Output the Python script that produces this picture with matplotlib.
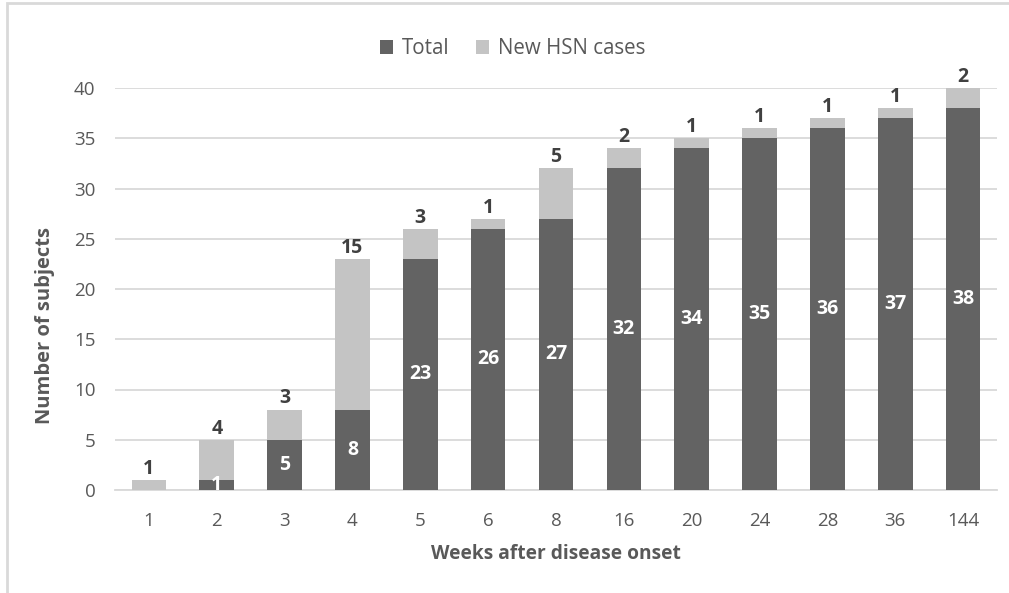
import matplotlib.pyplot as plt
from matplotlib.patches import Rectangle

weeks = ["1", "2", "3", "4", "5", "6", "8", "16", "20", "24", "28", "36", "144"]
total = [0, 1, 5, 8, 23, 26, 27, 32, 34, 35, 36, 37, 38]
new_cases = [1, 4, 3, 15, 3, 1, 5, 2, 1, 1, 1, 1, 2]

dark = "#636363"
light = "#c4c4c4"
txt = "#595959"

plt.rcParams["font.family"] = ["Open Sans", "DejaVu Sans"]

fig = plt.figure(figsize=(10.09, 5.93), dpi=100)
ax = fig.add_axes([115 / 1009, 1 - 490 / 593, 882 / 1009, 402 / 593])

x = list(range(len(weeks)))
b1 = ax.bar(x, total, width=0.51, color=dark, label="Total", zorder=3)
b2 = ax.bar(x, new_cases, width=0.51, bottom=total, color=light,
            label="New HSN cases", zorder=3)

# labels inside the dark bars
for xi, t in zip(x, total):
    if t > 0:
        ax.text(xi, t / 2, str(t), ha="center", va="center", color="white",
                fontsize=14, fontweight="bold", zorder=4)
# labels above the stack
for xi, t, n in zip(x, total, new_cases):
    ax.annotate(str(n), (xi, t + n), xytext=(0, 8), textcoords="offset points",
                ha="center", va="center", color="#404040", fontsize=14,
                fontweight="bold", zorder=4)

ax.set_xlim(-0.5, len(weeks) - 0.5)
ax.set_ylim(0, 40)
ax.set_yticks(range(0, 41, 5))
ax.set_xticks(x)
ax.set_xticklabels(weeks)
ax.yaxis.grid(True, color="#d9d9d9", linewidth=1.3, zorder=0)
ax.set_axisbelow(True)
for s in ["top", "right", "left"]:
    ax.spines[s].set_visible(False)
ax.spines["bottom"].set_color("#d9d9d9")
ax.spines["bottom"].set_linewidth(1.3)
ax.tick_params(axis="both", length=0, colors=txt, labelsize=13.5)
ax.tick_params(axis="x", pad=16)
ax.tick_params(axis="y", pad=14)

ax.set_xlabel("Weeks after disease onset", color=txt, fontsize=13.8,
              fontweight="bold", labelpad=10)
fig.text(45 / 1009, 1 - 325 / 593, "Number of subjects", rotation=90,
         ha="center", va="center", color=txt, fontsize=14.5, fontweight="bold")

fig.legend(handles=[b1, b2], loc="center", bbox_to_anchor=(0.508, 1 - 49 / 593),
           ncol=2, frameon=False, fontsize=14.8, labelcolor=txt,
           handlelength=0.65, handleheight=0.65, handletextpad=0.4,
           columnspacing=1.3)

# outer frame of the chart (cropped on right and bottom)
fig.patches.append(Rectangle((7 / 1009, -0.1), 1.2, 1 - 3 / 593 + 0.1,
                             transform=fig.transFigure, fill=False,
                             edgecolor="#d9d9d9", linewidth=2))

fig.savefig("out.png", dpi=100)
